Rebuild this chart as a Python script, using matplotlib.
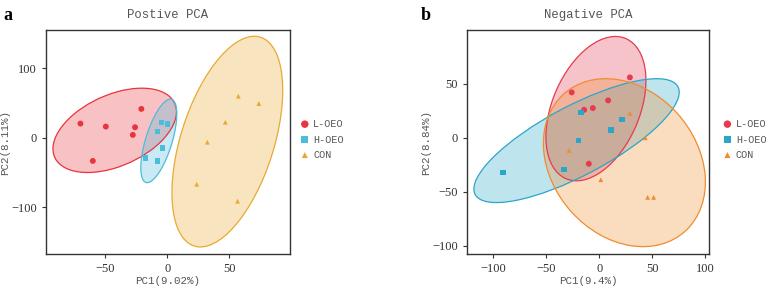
import numpy as np
import matplotlib
matplotlib.use("Agg")
import matplotlib.pyplot as plt
from matplotlib.patches import Ellipse

# PCA scores
groups = ["L-OEO", "H-OEO", "CON"]

pos_l_x = [-70.2, -49.7, -26.1, -27.9, -21.0, -60.2]
pos_l_y = [20.6, 16.3, 15.3, 4.3, 41.7, -33.1]
pos_h_x = [-4.6, 0.0, -7.8, -3.8, -17.5, -7.8]
pos_h_y = [22.1, 19.7, 9.1, -14.4, -28.8, -33.6]
pos_c_x = [57.3, 73.9, 46.8, 32.3, 23.7, 56.7]
pos_c_y = [60.0, 49.4, 22.5, -6.2, -66.7, -91.1]

neg_l_x = [28.8, -26.0, 8.3, -6.1, -14.3, -9.9]
neg_l_y = [55.9, 42.0, 34.6, 27.5, 25.9, -24.1]
neg_h_x = [-17.5, 21.3, 10.9, -19.7, -33.2, -90.6]
neg_h_y = [23.5, 17.0, 7.4, -2.5, -29.3, -32.1]
neg_c_x = [28.8, 43.3, -28.5, 1.4, 45.5, 51.2]
neg_c_y = [22.5, 0.0, -11.7, -38.9, -55.2, -55.2]

markers = ["o", "s", "^"]
sizes = [18, 16, 12]
pos_colors = ["#e8343c", "#4dbcdc", "#e8aa30"]
neg_colors = ["#e63a50", "#2aa6c9", "#f08c2e"]

serif = "Liberation Serif"
mono = "Liberation Mono"
grey = "#555555"


def conf_ellipse(ax, x, y, color):
    # 95% normal ellipse (chi2, 2 df)
    x = np.asarray(x)
    y = np.asarray(y)
    cov = np.cov(x, y)
    vals, vecs = np.linalg.eigh(cov)
    order = vals.argsort()[::-1]
    vals, vecs = vals[order], vecs[:, order]
    ang = np.degrees(np.arctan2(vecs[1, 0], vecs[0, 0]))
    k = np.sqrt(5.991)
    w, h = 2 * k * np.sqrt(vals)
    ax.add_patch(Ellipse((x.mean(), y.mean()), w, h, angle=ang,
                         facecolor=color, alpha=0.3, edgecolor="none", zorder=1))
    ax.add_patch(Ellipse((x.mean(), y.mean()), w, h, angle=ang,
                         facecolor="none", edgecolor=color, lw=0.9, zorder=2))


def pca_panel(ax, xs, ys, colors, title, xlab, ylab, xlim, ylim, xticks, yticks, leg_x):
    for x, y, c in zip(xs, ys, colors):
        conf_ellipse(ax, x, y, c)
    for x, y, c, m, s in zip(xs, ys, colors, markers, sizes):
        ax.scatter(x, y, s=s, marker=m, color=c, edgecolor="none", zorder=3)
    ax.set_xlim(xlim)
    ax.set_ylim(ylim)
    ax.set_xticks(xticks)
    ax.set_yticks(yticks)
    for sp in ax.spines.values():
        sp.set_color("#333333")
        sp.set_linewidth(1.0)
    ax.tick_params(length=3, width=0.8, color="#333333", labelcolor="#333333", labelsize=9)
    for lab in ax.get_xticklabels() + ax.get_yticklabels():
        lab.set_fontfamily(serif)
    ax.set_title(title, fontfamily=mono, fontsize=8.8, color=grey, pad=9)
    ax.set_xlabel(xlab, fontfamily=mono, fontsize=7.8, color=grey, labelpad=1)
    ax.set_ylabel(ylab, fontfamily=mono, fontsize=7.8, color=grey, labelpad=1)

    # legend drawn by hand, right of the panel
    for i, (g, c, m, s) in enumerate(zip(groups, colors, markers, sizes)):
        yy = 0.580 - i * 0.069
        ax.scatter([leg_x], [yy], s=s * 1.6, marker=m, color=c, edgecolor="none",
                   transform=ax.transAxes, clip_on=False)
        ax.text(leg_x + 0.035, yy, g, transform=ax.transAxes, va="center", ha="left",
                fontfamily=mono, fontsize=7.3, color=grey)


fig = plt.figure(figsize=(7.67, 2.87), dpi=100)
ax1 = fig.add_axes([0.060, 0.115, 0.318, 0.780])
ax2 = fig.add_axes([0.609, 0.115, 0.316, 0.780])

pca_panel(ax1, [pos_l_x, pos_h_x, pos_c_x], [pos_l_y, pos_h_y, pos_c_y], pos_colors,
          "Postive PCA", "PC1(9.02%)", "PC2(8.11%)",
          (-98, 99), (-167, 155), [-50, 0, 50], [-100, 0, 100], 1.061)
pca_panel(ax2, [neg_l_x, neg_h_x, neg_c_x], [neg_l_y, neg_h_y, neg_c_y], neg_colors,
          "Negative PCA", "PC1(9.4%)", "PC2(8.84%)",
          (-124.6, 103.8), (-107.7, 99.7), [-100, -50, 0, 50, 100], [-100, -50, 0, 50],
          1.074)

fig.text(0.004, 0.975, "a", fontfamily=serif, fontsize=13, fontweight="bold", va="top")
fig.text(0.549, 0.975, "b", fontfamily=serif, fontsize=13, fontweight="bold", va="top")

fig.savefig("out.png", dpi=100)
